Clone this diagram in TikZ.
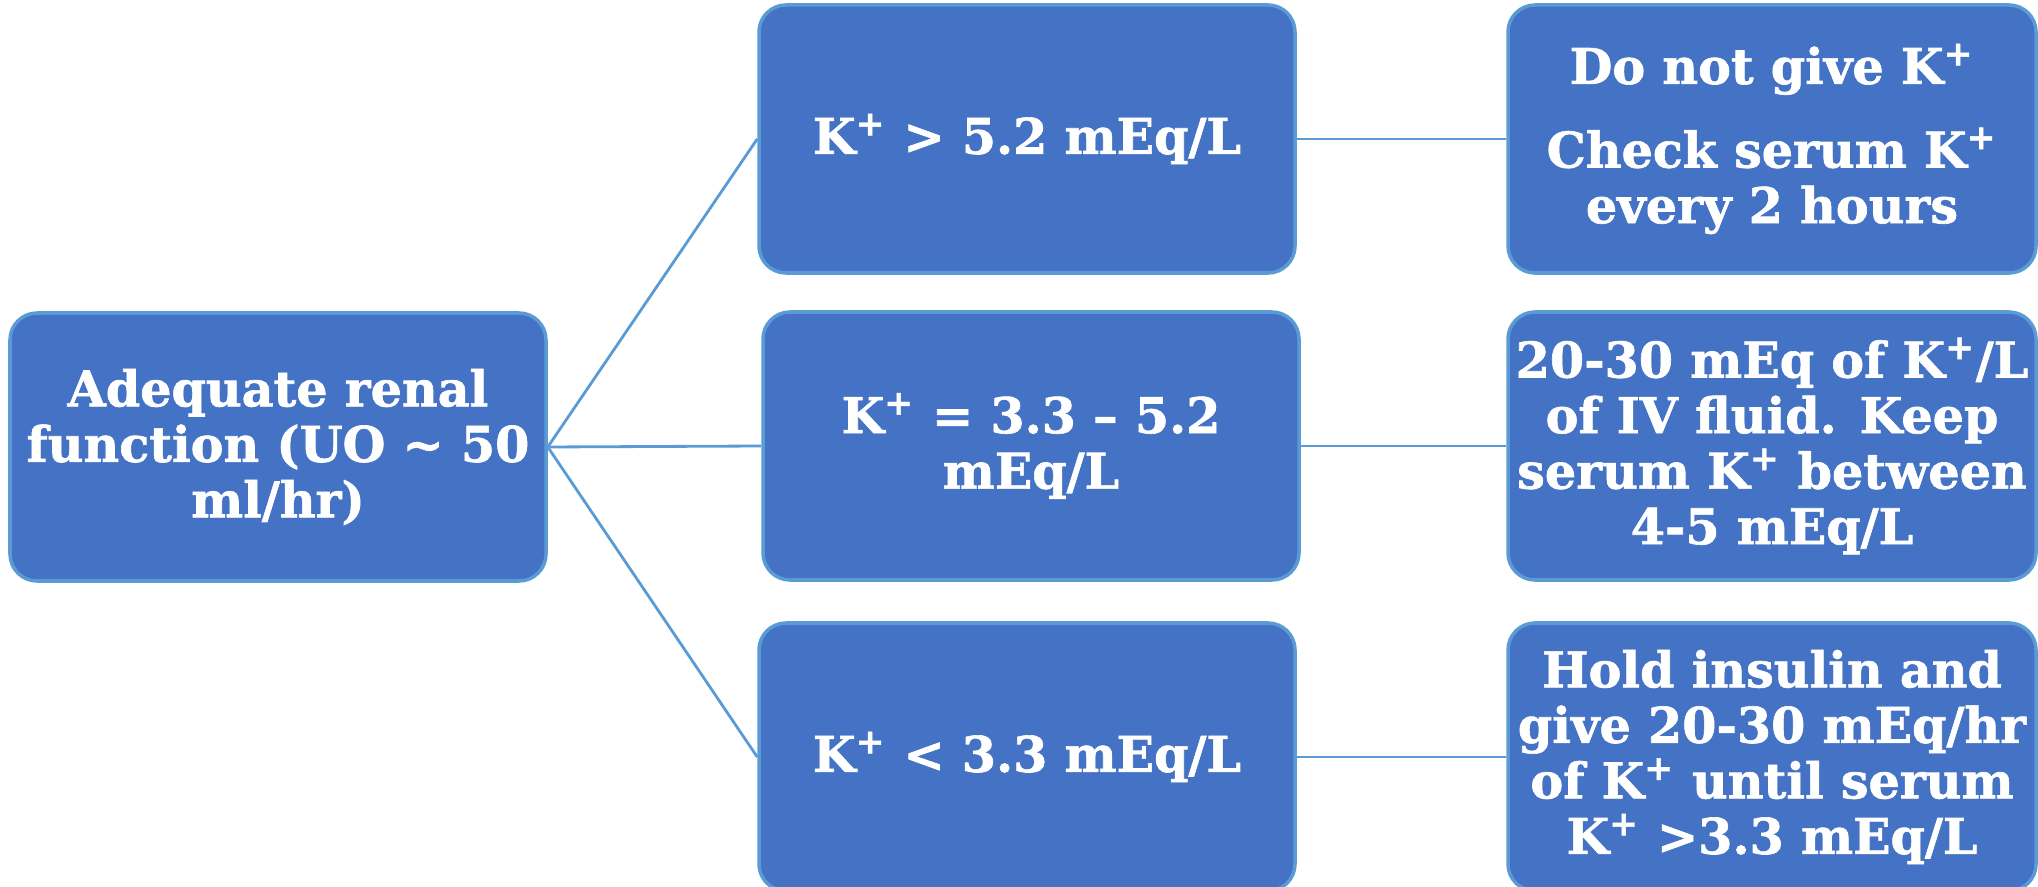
\documentclass[tikz,border=0pt]{standalone}
\usepackage{fontspec}
\setmainfont{DejaVu Serif}[BoldFeatures={FakeBold=1.3}]
\usepackage{tikz}
\usepackage{xcolor}
\usetikzlibrary{positioning}
\definecolor{boxblue}{HTML}{4472C4}
\definecolor{edgeblue}{HTML}{5B9BD5}
\tikzset{
  line cap=round,
  line join=round,
  box/.style={draw=edgeblue, fill=boxblue, line width=1pt, rounded corners=0.27cm,
    minimum width=5.36cm, minimum height=2.68cm, align=center, text=white,
    font=\bfseries\fontsize{14}{15.8}\selectfont},
  sidebox/.style={box, minimum width=5.28cm, inner xsep=1.5pt},
  link/.style={draw=edgeblue, line width=0.8pt}
}
\newcommand{\Kp}{K\textsuperscript{+}}

\begin{document}
\begin{tikzpicture}

\useasboundingbox (0,0) rectangle (20.38,8.86);

% Ausgangslage
\node[box] (renal) at (2.78,4.39) {Adequate renal\\function (UO \textasciitilde{} 50\\ml/hr)};

% Kaliumwerte
\node[box] (high) at (10.27,7.47) {\Kp{} > 5.2 mEq/L};
\node[box] (normal) at (10.31,4.40) {\Kp{} = 3.3 – 5.2\\mEq/L};
\node[box] (low) at (10.27,1.29) {\Kp{} < 3.3 mEq/L};

% Massnahmen
\node[sidebox] (nogive) at (17.72,7.47) {Do not give \Kp\\[8pt]Check serum \Kp\\every 2 hours};
\node[sidebox] (fluid) at (17.72,4.40) {20-30 mEq of \Kp/L\\of IV fluid. Keep\\serum \Kp{} between\\4-5 mEq/L};
\node[sidebox] (hold) at (17.72,1.29) {Hold insulin and\\give 20-30 mEq/hr\\of \Kp{} until serum\\\Kp{} >3.3 mEq/L};

% Verbindungen
\draw[link] (renal.east) -- (high.west);
\draw[link] (renal.east) -- (normal.west);
\draw[link] (renal.east) -- (low.west);
\draw[link] (high.east) -- (nogive.west);
\draw[link] (normal.east) -- (fluid.west);
\draw[link] (low.east) -- (hold.west);

\end{tikzpicture}
\end{document}
